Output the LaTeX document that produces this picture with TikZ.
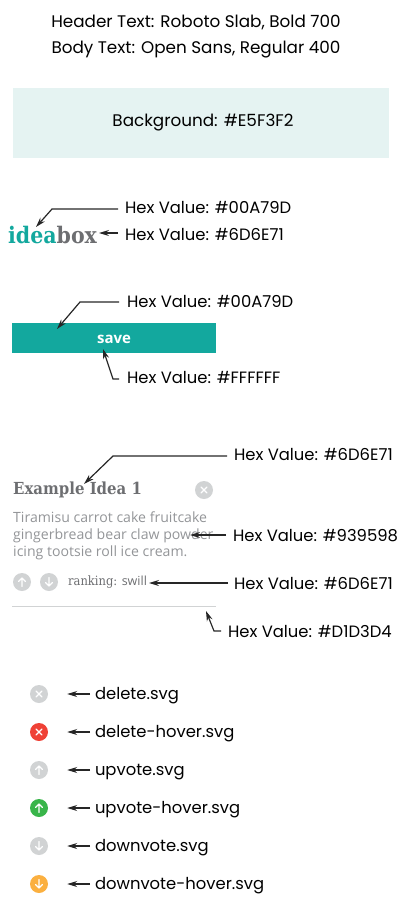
\documentclass[tikz,border=0pt]{standalone}
\usepackage{fontspec}
\setmainfont{Poppins}
\newfontfamily\bodyfont{Open Sans}
\newfontfamily\slabfont{DejaVu Serif Condensed}
\usetikzlibrary{arrows.meta}
\definecolor{teal}{HTML}{13A89E}
\definecolor{slate}{HTML}{6D6E71}
\definecolor{ash}{HTML}{939598}
\definecolor{mist}{HTML}{D1D3D4}
\definecolor{pale}{HTML}{E5F3F2}
\definecolor{hoverred}{HTML}{EF4136}
\definecolor{hovergreen}{HTML}{39B54A}
\definecolor{hoverorange}{HTML}{FBB040}
\tikzset{
    lbl/.style={anchor=west, inner sep=0pt, outer sep=0pt, font=\fontsize{16.4}{18}\selectfont, text height=11pt, text depth=3pt},
    title/.style={inner sep=0pt, font=\fontsize{16.8}{18}\selectfont},
    ptr/.style={draw=black!85, line width=1.2pt, -{Stealth[length=10pt,width=6pt]}},
    icon/.style={circle, fill=mist, minimum size=18pt, inner sep=0pt},
    glyph/.style={draw=white, line width=1.1pt, line cap=round, line join=round},
}
\newcommand{\glyphx}[1]{\draw[glyph, shift={(#1.center)}] (-3,-3) -- (3,3) (-3,3) -- (3,-3);}
\newcommand{\glyphup}[1]{\draw[glyph, shift={(#1.center)}] (0,4.5) -- (0,-4) (-3.5,-0.5) -- (0,-4) -- (3.5,-0.5);}
\newcommand{\glyphdown}[1]{\draw[glyph, shift={(#1.center)}] (0,-4.5) -- (0,4) (-3.5,0.5) -- (0,4) -- (3.5,0.5);}
\begin{document}
\begin{tikzpicture}[x=1pt, y=-1pt]
    \useasboundingbox (0,0) rectangle (410,918);
    % header
    \node[title] (head) at (196,22) {Header Text: Roboto Slab, Bold 700};
    \node[title] (body) at (196,50) {Body Text: Open Sans, Regular 400};
    \node[fill=pale, minimum width=376pt, minimum height=70pt, inner sep=0pt] (bg) at (201,123) {};
    \node[title] (bglbl) at (203,123) {Background: \#E5F3F2};

    % logo
    \node[anchor=base west, inner sep=0pt, font=\slabfont\bfseries\fontsize{22.8}{24}\selectfont] (logo) at (8,243)
        {\textcolor{teal}{idea}\textcolor{slate}{box}};
    \node[lbl] (l1) at (125,209.3) {Hex Value: \#00A79D};
    \node[lbl] (l2) at (125,236.7) {Hex Value: \#6D6E71};
    \coordinate (b1) at (52,209);
    \coordinate (t1) at (36,227);
    \coordinate (t2) at (99,233);
    \draw[ptr] ([xshift=-7pt]l1.west |- b1) -- (b1) -- (t1);
    \draw[ptr] ([xshift=-7pt]l2.west |- t2) -- (t2);

    % save button
    \node[fill=teal, minimum width=204pt, minimum height=30pt, inner sep=0pt] (btn) at (114,338) {};
    \node[text=white, inner sep=0pt, font=\bodyfont\bfseries\fontsize{15}{16}\selectfont] (save) at (114,339) {save};
    \node[lbl] (l3) at (127,303) {Hex Value: \#00A79D};
    \node[lbl] (l4) at (127,379.3) {Hex Value: \#FFFFFF};
    \coordinate (b3) at (80,302);
    \coordinate (t3) at (57,329);
    \coordinate (b4) at (113,379);
    \coordinate (t4) at (103,349);
    \draw[ptr] ([xshift=-8pt]l3.west |- b3) -- (b3) -- (t3);
    \draw[ptr] ([xshift=-8pt]l4.west |- b4) -- (b4) -- (t4);

    % card
    \node[anchor=west, inner sep=0pt, text=slate, font=\slabfont\bfseries\fontsize{16.6}{18}\selectfont] (card) at (13,490) {Example Idea 1};
    \node[icon] (del) at (204,490) {};
    \glyphx{del}
    \node[anchor=north west, inner sep=0pt, text=ash, align=left, font=\bodyfont\fontsize{14.1}{16.6}\selectfont] (txt) at (13,512)
        {Tiramisu carrot cake fruitcake\\gingerbread bear claw powder\\icing tootsie roll ice cream.};
    \node[icon] (up) at (22,582) {};
    \glyphup{up}
    \node[icon] (down) at (49,582) {};
    \glyphdown{down}
    \node[anchor=west, inner sep=0pt, text=slate, font=\fontsize{12.5}{14}\selectfont] (rank) at (68,582)
        {{\slabfont\fontsize{12.8}{14}\selectfont ranking:} {\bodyfont swill}};
    \draw[mist, line width=1pt] (12,606) -- (216,606);
    \node[lbl] (l5) at (234,456) {Hex Value: \#6D6E71};
    \node[lbl] (l6) at (233,537) {Hex Value: \#939598};
    \node[lbl] (l7) at (234,585) {Hex Value: \#6D6E71};
    \node[lbl] (l8) at (228,633) {Hex Value: \#D1D3D4};
    \coordinate (b5) at (113,456);
    \coordinate (t5) at (84,484);
    \coordinate (t6) at (190,535);
    \coordinate (t7) at (149,583);
    \coordinate (b8) at (214,631);
    \coordinate (t8) at (206,611);
    \draw[ptr] ([xshift=-7pt]l5.west |- b5) -- (b5) -- (t5);
    \draw[ptr] ([xshift=-7pt]l6.west |- t6) -- (t6);
    \draw[ptr] ([xshift=-6pt]l7.west |- t7) -- (t7);
    \draw[ptr] ([xshift=-7pt]l8.west |- b8) -- (b8) -- (t8);

    % icon files
    \foreach \i/\y/\col/\gl/\fname in {
        1/694/mist/\glyphx/delete.svg,
        2/732/hoverred/\glyphx/delete-hover.svg,
        3/770/mist/\glyphup/upvote.svg,
        4/808/hovergreen/\glyphup/upvote-hover.svg,
        5/846/mist/\glyphdown/downvote.svg,
        6/884/hoverorange/\glyphdown/downvote-hover.svg}{
        \node[icon, fill=\col] (ic\i) at (39,\y) {};
        \gl{ic\i}
        \node[lbl] (f\i) at (95,\y+1.5) {\fname};
        \draw[ptr] ([xshift=-5pt]f\i.west |- ic\i) -- ([xshift=19pt]ic\i.east);
    }
\end{tikzpicture}
\end{document}
